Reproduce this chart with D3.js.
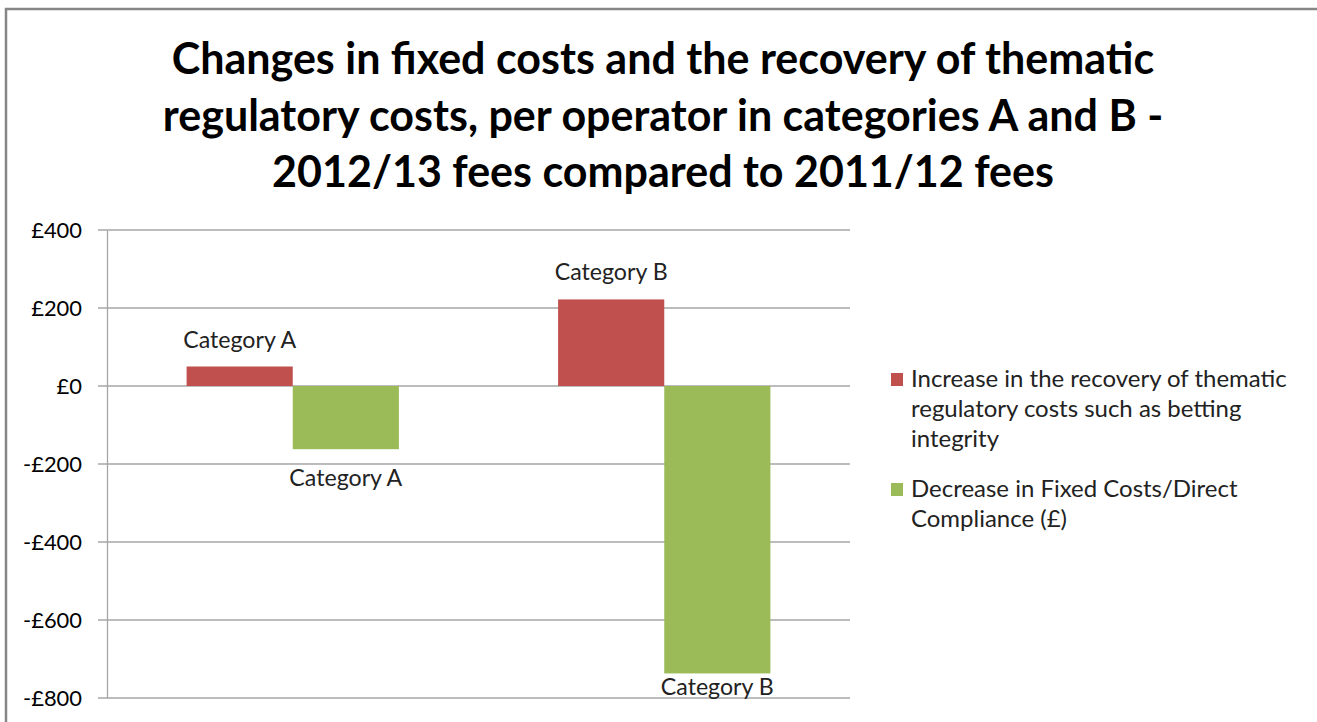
<!DOCTYPE html>
<html>
<head>
<meta charset="utf-8">
<script src="https://cdn.jsdelivr.net/npm/d3@7"></script>
<style>
  body { margin: 0; background: #fff; }
  svg { display: block; font-family: Lato, "Open Sans", sans-serif; }
</style>
</head>
<body>
<div id="chart"></div>
<script>
// data
var categories = ["Category A", "Category B"];
var seriesNames = [
    "Increase in the recovery of thematic regulatory costs such as betting integrity",
    "Decrease in Fixed Costs/Direct Compliance (£)"
];
var increaseValues = [50, 222];
var decreaseValues = [-162, -737];
var tickValues = [400, 200, 0, -200, -400, -600, -800];
var titleLines = [
    "Changes in fixed costs and the recovery of thematic",
    "regulatory costs, per operator in categories A and B -",
    "2012/13 fees compared to 2011/12 fees"
];
var legendLines = [
    ["Increase in the recovery of thematic", "regulatory costs such as betting", "integrity"],
    ["Decrease in Fixed Costs/Direct", "Compliance (£)"]
];
var colors = ["#c0504d", "#9bbb59"];

var W = 1317, H = 722;
var svg = d3.select("#chart").append("svg")
    .attr("width", W)
    .attr("height", H);

// scale a font so a sample string gets the width seen in the picture
function fitFont(sample, target, weight) {
    var t = svg.append("text")
        .attr("font-size", 20)
        .attr("font-weight", weight || "normal")
        .text(sample);
    var w = t.node().getComputedTextLength();
    t.remove();
    return 20 * target / w;
}

var titleSize = fitFont(titleLines[0], 983, "bold");
var tickSize = fitFont("-£200", 59);
var labelSize = fitFont("Category A", 113);
var legendSize = fitFont(legendLines[0][0], 376);

// outer chart-area border
svg.append("rect")
    .attr("x", 6).attr("y", 9)
    .attr("width", W + 20).attr("height", H + 20)
    .attr("fill", "none")
    .attr("stroke", "#868686")
    .attr("stroke-width", 2.5);

// title
titleLines.forEach(function(t, i) {
    svg.append("text")
        .attr("x", 663)
        .attr("y", 74 + i * 56.5)
        .attr("text-anchor", "middle")
        .attr("font-size", titleSize)
        .attr("font-weight", "bold")
        .attr("fill", "#000")
        .text(t);
});

var plot = {left: 107, right: 850, top: 230, bottom: 698};

var y = d3.scaleLinear()
    .domain([-800, 400])
    .range([plot.bottom, plot.top]);

var x0 = d3.scaleBand()
    .domain(categories)
    .range([plot.left, plot.right]);

// gap width 150% like Excel
var barW = x0.bandwidth() / 3.5;

// gridlines
svg.append("g")
    .selectAll("line")
    .data(tickValues)
    .enter()
    .append("line")
    .attr("x1", plot.left - 9)
    .attr("x2", plot.right)
    .attr("y1", function(d) { return y(d); })
    .attr("y2", function(d) { return y(d); })
    .attr("stroke", "#a6a6a6")
    .attr("stroke-width", 1.3);

var yAxis = d3.axisLeft(y)
    .tickValues(tickValues)
    .tickSize(0)
    .tickPadding(25)
    .tickFormat(function(d) { return (d < 0 ? "-£" : "£") + Math.abs(d); });

var yAxisG = svg.append("g")
    .attr("transform", "translate(" + plot.left + ",0)")
    .call(yAxis);
yAxisG.select(".domain").attr("stroke", "#a6a6a6").attr("stroke-width", 1.3);
yAxisG.selectAll("text")
    .attr("font-size", tickSize)
    .attr("font-family", "Lato, sans-serif")
    .attr("fill", "#000");

// bars
var rows = categories.map(function(c, i) {
    return {cat: c, vals: [increaseValues[i], decreaseValues[i]]};
});

var groups = svg.selectAll(".grp")
    .data(rows)
    .enter()
    .append("g")
    .attr("class", "grp");

groups.each(function(row) {
    var g = d3.select(this);
    var cx = x0(row.cat) + x0.bandwidth() / 2;
    row.vals.forEach(function(v, s) {
        var bx = cx - barW + s * barW;
        g.append("rect")
            .attr("x", bx)
            .attr("y", y(Math.max(0, v)))
            .attr("width", barW)
            .attr("height", Math.abs(y(v) - y(0)))
            .attr("fill", colors[s]);
        // data label, kept inside the plot area
        var ty = v >= 0 ? y(v) - 19 : Math.min(y(v) + 37, plot.bottom - 3);
        g.append("text")
            .attr("x", bx + barW / 2)
            .attr("y", ty)
            .attr("text-anchor", "middle")
            .attr("font-size", labelSize)
            .attr("fill", "#222")
            .text(row.cat);
    });
});

// legend
var legend = svg.append("g");
var ly = [387, 497];
legendLines.forEach(function(lines, s) {
    legend.append("rect")
        .attr("x", 891)
        .attr("y", ly[s] - 14)
        .attr("width", 12)
        .attr("height", 13)
        .attr("fill", colors[s]);
    lines.forEach(function(t, j) {
        legend.append("text")
            .attr("x", 911)
            .attr("y", ly[s] + j * 30)
            .attr("font-size", legendSize)
            .attr("fill", "#222")
            .text(t);
    });
});
</script>
</body>
</html>
